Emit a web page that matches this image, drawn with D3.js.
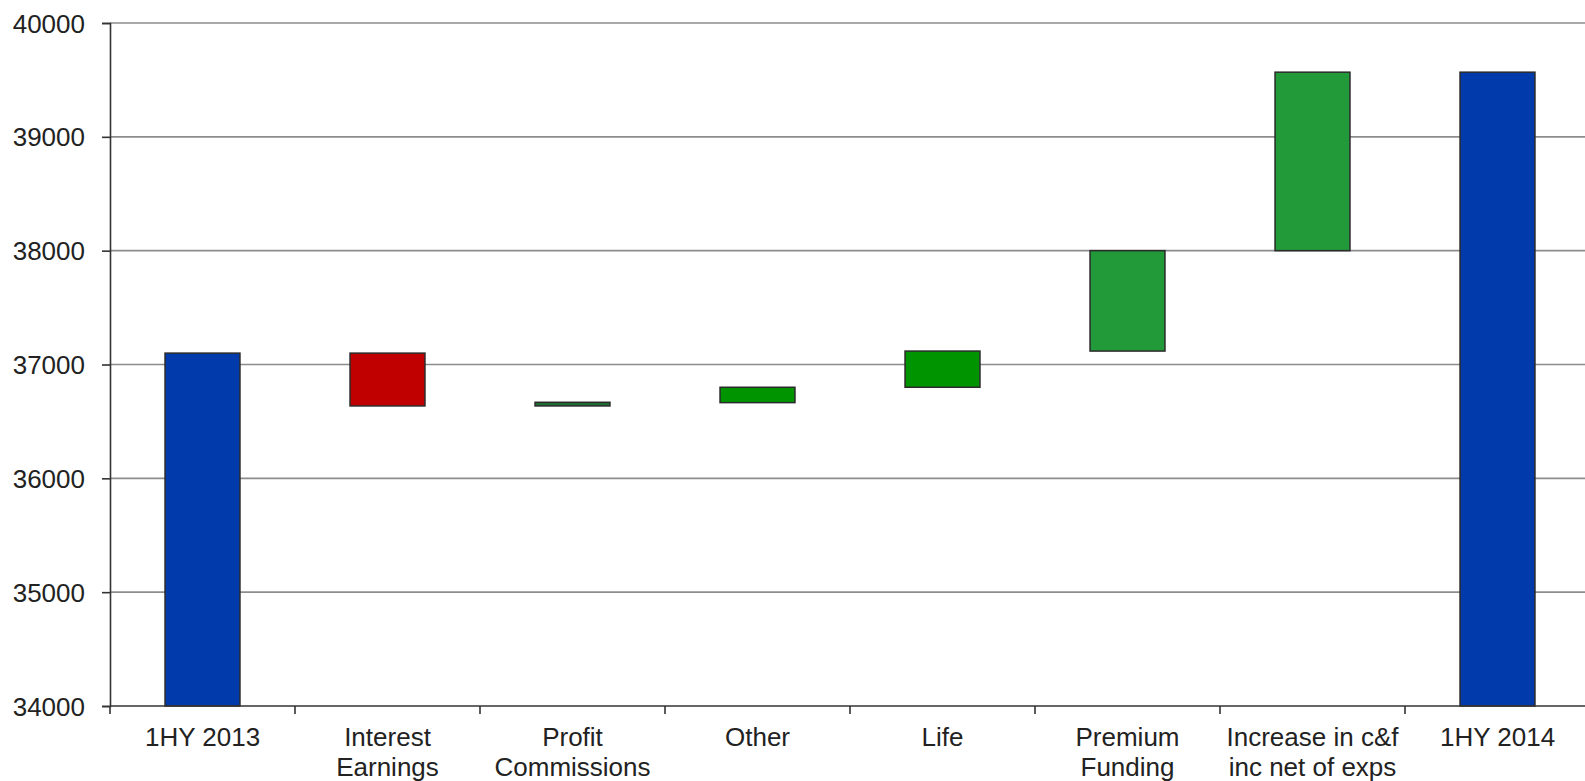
<!DOCTYPE html>
<html>
<head>
<meta charset="utf-8">
<script src="https://cdn.jsdelivr.net/npm/d3@7"></script>
<style>
    body { margin: 0; background: #fff; }
    svg text { font-family: "Liberation Sans", Arial, sans-serif; fill: #222; }
</style>
</head>
<body>
<div id="chart"></div>
<script>
// waterfall data
var categories = ['1HY 2013', 'Interest|Earnings', 'Profit|Commissions', 'Other', 'Life',
    'Premium|Funding', 'Increase in c&f|inc net of exps', '1HY 2014'];
var barStart = [34000, 37100, 36636, 36665, 36800, 37118, 38000, 34000];
var barEnd   = [37100, 36636, 36668, 36800, 37118, 38000, 39568, 39568];
var barColors = ['#003aab', '#c00000', '#1e6e33', '#009400', '#009400', '#229a3a', '#229a3a', '#003aab'];
var yTicks = [34000, 35000, 36000, 37000, 38000, 39000, 40000];

var width = 1585,
    height = 781,
    margin = { top: 23, right: -5, bottom: 75, left: 110 };

var chartWidth = width - margin.left - margin.right,
    chartHeight = height - margin.top - margin.bottom;

var svg = d3.select('#chart').append('svg')
    .attr('width', width)
    .attr('height', height);

var xScale = d3.scaleBand()
    .domain(categories)
    .range([0, chartWidth])
    .paddingInner(0.595)
    .paddingOuter(0.2975);

var yScale = d3.scaleLinear()
    .domain([34000, 40000])
    .range([chartHeight, 0]);

var chartG = svg.append('g')
    .attr('transform', 'translate(' + margin.left + ',' + margin.top + ')');

// gridlines
chartG.append('g').selectAll('line')
    .data(yTicks.slice(1))
    .enter().append('line')
    .attr('x1', 0)
    .attr('x2', chartWidth)
    .attr('y1', function (d) { return yScale(d); })
    .attr('y2', function (d) { return yScale(d); })
    .attr('stroke', '#8c8c8c')
    .attr('stroke-width', 1.6);

// bars
chartG.append('g').selectAll('rect')
    .data(categories)
    .enter().append('rect')
    .attr('x', function (d) { return xScale(d); })
    .attr('width', xScale.bandwidth())
    .attr('y', function (d, i) { return yScale(Math.max(barStart[i], barEnd[i])); })
    .attr('height', function (d, i) { return Math.abs(yScale(barStart[i]) - yScale(barEnd[i])); })
    .attr('fill', function (d, i) { return barColors[i]; })
    .attr('stroke', '#2b2b2b')
    .attr('stroke-width', 1.5);

// y axis
var yAxis = d3.axisLeft(yScale).tickValues(yTicks).tickFormat(d3.format('d')).tickSize(8).tickPadding(17);
var yG = chartG.append('g').call(yAxis);
yG.select('.domain').attr('stroke', '#333').attr('stroke-width', 1.6);
yG.selectAll('.tick line').attr('stroke', '#333').attr('stroke-width', 1.6);
yG.selectAll('text').style('font-size', '26px').attr('dy', '0.35em').style('fill', '#222');

// x axis
var bandStep = xScale.step();
var xG = chartG.append('g')
    .attr('transform', 'translate(0,' + chartHeight + ')');
xG.append('line')
    .attr('x1', 0).attr('x2', chartWidth)
    .attr('stroke', '#333').attr('stroke-width', 1.6);
xG.selectAll('.xtick')
    .data(d3.range(categories.length))
    .enter().append('line')
    .attr('class', 'xtick')
    .attr('x1', function (i) { return i * bandStep; })
    .attr('x2', function (i) { return i * bandStep; })
    .attr('y1', 0).attr('y2', 8)
    .attr('stroke', '#333').attr('stroke-width', 1.6);

var labels = xG.selectAll('.xlabel')
    .data(categories)
    .enter().append('text')
    .attr('class', 'xlabel')
    .attr('text-anchor', 'middle')
    .style('font-size', '26px')
    .attr('transform', function (d) { return 'translate(' + (xScale(d) + xScale.bandwidth() / 2) + ',40)'; });

labels.selectAll('tspan')
    .data(function (d) { return d.split('|'); })
    .enter().append('tspan')
    .attr('x', 0)
    .attr('y', function (d, i) { return i * 30; })
    .text(function (d) { return d; });
</script>
</body>
</html>
